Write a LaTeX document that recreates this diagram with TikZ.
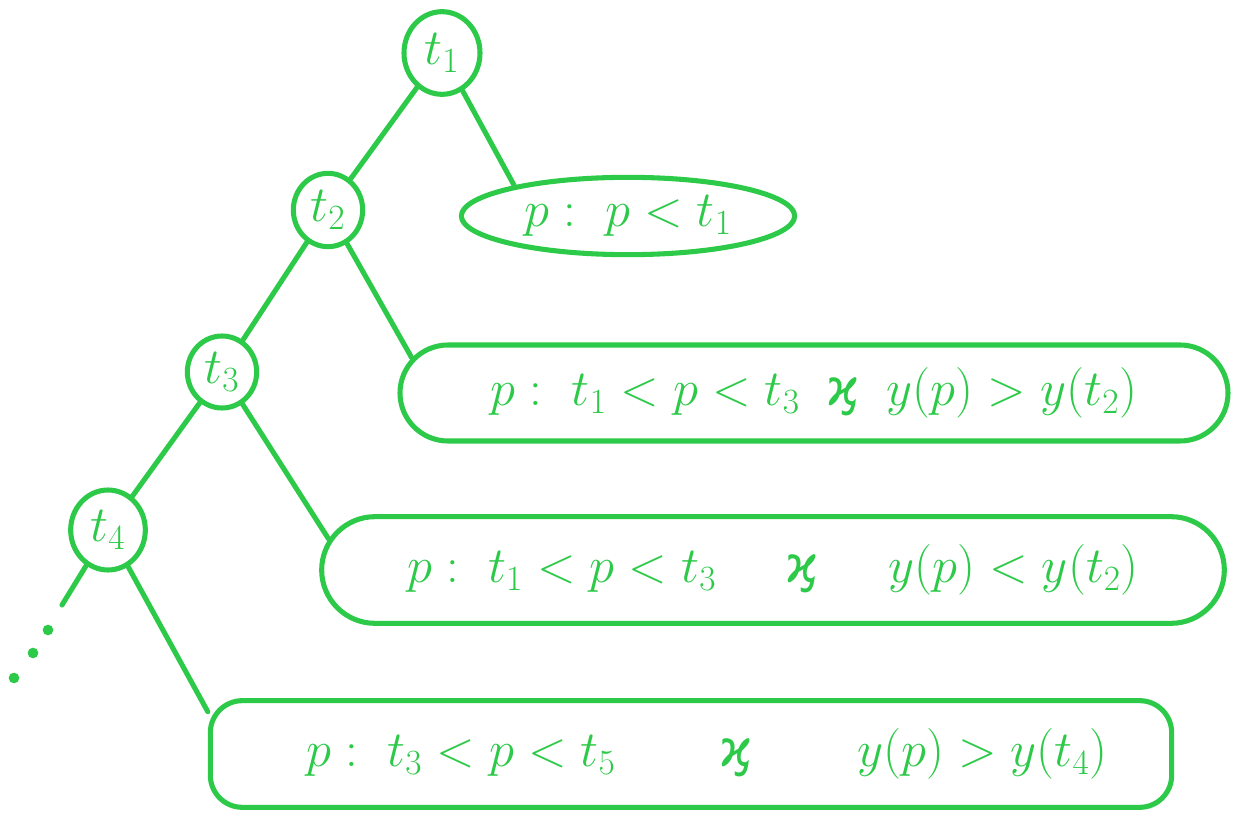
\RequirePackage{fix-cm}
\documentclass[tikz,border=0pt]{standalone}
\usepackage{fontspec}
\newfontfamily\grfont{DejaVu Sans}
\usetikzlibrary{shapes.geometric,shapes.misc}
\definecolor{pen}{RGB}{44,202,72}
\newcommand{\kai}{{\grfont ϗ}}
\begin{document}
\begin{tikzpicture}[x=0.75pt,y=-0.75pt,
  line width=3.8pt, line cap=round, line join=round,
  every node/.style={draw=pen, text=pen, font=\fontsize{38}{42}\selectfont, inner sep=0pt},
  tnode/.style={ellipse},
  leafpill/.style={rounded rectangle},
  leafbox/.style={rectangle, rounded corners=24pt}]
\useasboundingbox (0,0) rectangle (1233,827);
\fill[white] (0,0) rectangle (1233,827);
\begin{scope}[draw=pen]
\node[tnode, minimum width=57pt, minimum height=62pt] (t1) at (442,53) {$t_1$};
\node[tnode, minimum width=52pt, minimum height=55pt] (t2) at (328,210) {$t_2$};
\node[tnode, minimum width=52pt, minimum height=54pt] (t3) at (222,372) {$t_3$};
\node[tnode, minimum width=56pt, minimum height=60pt] (t4) at (108,530) {$t_4$};
\node[ellipse, minimum width=250pt, minimum height=58pt] (l1) at (628,216) {$p:\ p<t_1$};
\node[leafpill, minimum width=621pt, minimum height=72pt] (l2) at (814,393)
  {$p:\ t_1<p<t_3$\hspace{20pt}\kai\hspace{20pt}$y(p)>y(t_2)$\hspace{14pt}};
\node[leafpill, minimum width=677pt, minimum height=80pt] (l3) at (773,570)
  {$p:\ t_1<p<t_3$\hspace{52pt}\kai\hspace{52pt}$y(p)<y(t_2)$\hspace{8pt}};
\node[leafbox, minimum width=721pt, minimum height=80pt] (l4) at (691,754)
  {\hspace{24pt}$p:\ t_3<p<t_5$\hspace{78pt}\kai\hspace{78pt}$y(p)>y(t_4)$};
\coordinate (stub) at (62,605);
\draw[pen] (t1) -- (t2);
\draw[pen] (t1) -- (l1.165);
\draw[pen] (t2) -- (t3);
\draw[pen] (t2) -- (l2.175);
\draw[pen] (t3) -- (t4);
\draw[pen] (t3) -- (l3.176);
\draw[pen] (t4) -- (stub);
\draw[pen] (t4) -- (l4.175);
\fill[pen] (48,630) circle (4pt);
\fill[pen] (33,653) circle (4pt);
\fill[pen] (14,678) circle (4pt);
\end{scope}
\end{tikzpicture}
\end{document}
